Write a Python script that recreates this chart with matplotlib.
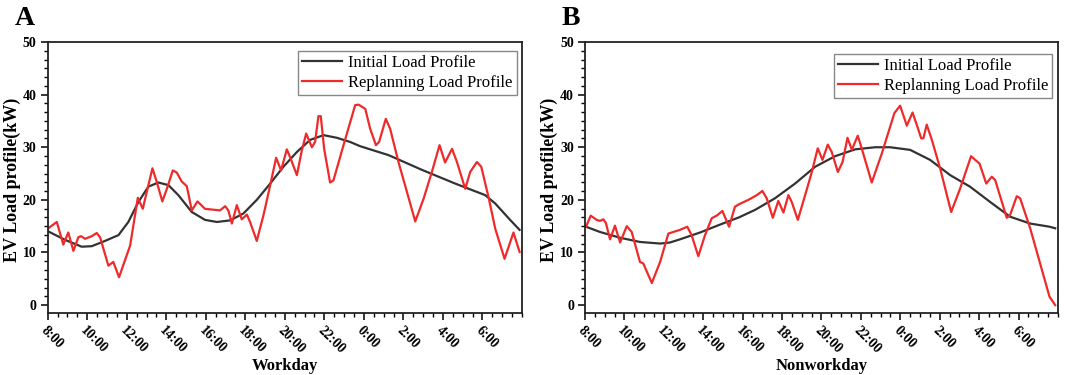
import matplotlib
matplotlib.use('Agg')
import matplotlib.pyplot as plt
from matplotlib.ticker import AutoMinorLocator

plt.rcParams['font.family'] = ['Liberation Serif', 'DejaVu Serif']

# hours after 8:00
hour_ticks = [0, 2, 4, 6, 8, 10, 12, 14, 16, 18, 20, 22]
hour_labels = ['8:00', '10:00', '12:00', '14:00', '16:00', '18:00',
               '20:00', '22:00', '0:00', '2:00', '4:00', '6:00']
load_ticks = [0, 10, 20, 30, 40, 50]

# workday - initial load profile
x_init_work = [0.03, 0.88, 1.72, 2.23, 2.90, 3.58, 4.08, 4.59, 5.09, 5.60, 6.11, 6.61,
               7.29, 7.96, 8.56, 9.23, 9.90, 10.58, 11.26, 11.93, 12.61, 13.28, 13.96,
               14.63, 15.31, 15.81, 17.25, 18.94, 20.62, 22.14, 22.65, 23.40, 23.88]
y_init_work = [14.0, 12.4, 11.1, 11.2, 12.2, 13.3, 15.8, 19.6, 22.5, 23.3, 22.8, 20.9,
               17.7, 16.2, 15.8, 16.1, 17.4, 20.0, 23.1, 26.3, 29.1, 31.4, 32.3,
               31.8, 31.0, 30.2, 28.5, 25.7, 23.1, 20.9, 19.3, 16.2, 14.3]

# workday - replanning load profile
x_repl_work = [0.03, 0.46, 0.79, 1.04, 1.30, 1.55, 1.69, 1.89, 2.23, 2.48, 2.65, 3.07,
               3.32, 3.61, 4.17, 4.56, 4.81, 5.30, 5.52, 5.80, 6.03, 6.33, 6.53, 6.78,
               7.04, 7.29, 7.58, 7.96, 8.72, 8.98, 9.14, 9.32, 9.57, 9.82, 10.08, 10.24,
               10.58, 10.92, 11.26, 11.56, 11.81, 12.10, 12.30, 12.61, 12.86, 13.08,
               13.37, 13.53, 13.70, 13.82, 13.99, 14.29, 14.46, 14.97, 15.56, 15.73,
               16.07, 16.32, 16.61, 16.77, 17.11, 17.33, 17.75, 18.18, 18.60, 19.02,
               19.44, 19.83, 20.11, 20.46, 20.71, 21.13, 21.38, 21.72, 21.94, 22.31,
               22.65, 23.12, 23.57, 23.88]
y_repl_work = [14.6, 15.8, 11.5, 13.8, 10.3, 12.9, 13.1, 12.6, 13.1, 13.7, 12.9, 7.5,
               8.2, 5.3, 11.3, 20.4, 18.3, 26.0, 23.4, 19.7, 22.1, 25.6, 25.2, 23.5,
               22.6, 18.0, 19.7, 18.3, 18.0, 18.8, 18.0, 15.5, 19.0, 16.3, 17.2, 15.8,
               12.2, 17.1, 22.8, 28.0, 25.6, 29.6, 27.8, 24.7, 29.4, 32.6,
               30.0, 31.0, 35.9, 35.9, 29.7, 23.3, 23.7, 30.4, 38.0, 38.1,
               37.3, 33.5, 30.4, 31.0, 35.4, 33.5, 27.2, 21.5, 15.9, 20.2,
               25.3, 30.4, 27.1, 29.7, 27.2, 22.1, 25.3, 27.2, 26.3, 20.5,
               14.5, 8.8, 13.8, 10.1]

# nonworkday - initial load profile
x_init_non = [0.05, 0.76, 1.78, 2.79, 3.81, 4.31, 4.82, 5.84, 6.85, 7.83, 8.63, 9.64,
              10.66, 11.68, 12.69, 13.71, 14.72, 15.48, 16.50, 17.51, 18.53, 19.54,
              20.56, 21.57, 22.59, 23.57, 23.86]
y_init_non = [14.9, 13.9, 12.8, 12.0, 11.7, 11.9, 12.5, 13.8, 15.3, 16.7, 18.1, 20.3,
              23.1, 26.3, 28.3, 29.6, 30.0, 30.0, 29.5, 27.6, 24.7, 22.5,
              19.6, 16.8, 15.5, 14.9, 14.6]

# nonworkday - replanning load profile
x_repl_non = [0.05, 0.29, 0.59, 0.76, 0.93, 1.06, 1.27, 1.52, 1.78, 2.12, 2.37, 2.79,
              2.96, 3.39, 3.81, 4.23, 4.48, 4.82, 5.19, 5.41, 5.75, 6.09, 6.43, 6.72,
              6.97, 7.31, 7.61, 7.83, 8.29, 8.72, 9.00, 9.22, 9.53, 9.81, 10.07, 10.32,
              10.49, 10.80, 11.17, 11.51, 11.81, 12.05, 12.32, 12.52, 12.83, 13.07,
              13.32, 13.54, 13.84, 14.04, 14.55, 15.06, 15.70, 15.99, 16.33, 16.62,
              16.84, 17.06, 17.17, 17.34, 17.60, 18.02, 18.58, 19.04, 19.59, 19.80,
              20.02, 20.36, 20.64, 20.81, 21.40, 21.57, 21.91, 22.08, 22.59, 23.57, 23.86]
y_repl_non = [14.9, 17.0, 16.2, 16.0, 16.3, 15.6, 12.5, 15.1, 11.9, 15.0, 13.9, 8.2,
              7.9, 4.2, 8.2, 13.6, 13.9, 14.3, 14.9, 13.3, 9.3, 13.3, 16.5, 17.1,
              17.9, 14.9, 18.7, 19.2, 20.0, 20.9, 21.7, 20.3, 16.6, 19.8, 17.6, 20.9,
              19.6, 16.2, 20.9, 25.3, 29.8, 27.6, 30.5, 29.1, 25.3, 27.2,
              31.8, 29.5, 32.2, 29.8, 23.3, 28.8, 36.5, 37.9, 34.1, 36.6,
              34.2, 31.7, 31.7, 34.3, 31.4, 26.0, 17.7, 22.2, 28.3, 27.6,
              26.9, 23.1, 24.4, 23.8, 16.6, 17.1, 20.7, 20.3, 14.6, 1.6, 0.0]

fig = plt.figure(figsize=(10.65, 3.75), dpi=100)
ax1 = fig.add_axes([0.0448, 0.1653, 0.4453, 0.7227])
ax2 = fig.add_axes([0.5493, 0.1653, 0.4441, 0.7227])


def configurar_painel(ax, x_init, y_init, x_repl, y_repl, xlabel, leg_anchor):
    ax.plot(x_init, y_init, color='#333333', lw=1.6, label='Initial Load Profile')
    ax.plot(x_repl, y_repl, color='#ee2a2a', lw=1.6, label='Replanning Load Profile')
    ax.set_xlim(0, 24)
    ax.set_ylim(-1.5, 50)
    ax.set_xticks(hour_ticks)
    ax.set_xticklabels(hour_labels, rotation=-45, ha='left', va='top',
                       rotation_mode='anchor', fontweight='bold', fontsize=10)
    ax.set_yticks(load_ticks)
    ax.set_yticklabels([str(v) for v in load_ticks], fontweight='bold', fontsize=10)
    ax.xaxis.set_minor_locator(AutoMinorLocator(4))
    ax.yaxis.set_minor_locator(AutoMinorLocator(6))
    ax.tick_params(which='major', direction='out', length=5, width=1.1, pad=3)
    ax.tick_params(which='minor', direction='out', length=3, width=1.0)
    for sp in ax.spines.values():
        sp.set_linewidth(1.3)
        sp.set_color('#222222')
    ax.set_xlabel(xlabel, fontweight='bold', fontsize=12)
    ax.xaxis.set_label_coords(0.5, -0.165)
    ax.set_ylabel('EV Load profile(kW)', fontweight='bold', fontsize=13)
    ax.yaxis.set_label_coords(-0.057, 0.49)
    leg = ax.legend(loc='upper right', bbox_to_anchor=leg_anchor, borderaxespad=0,
                    fontsize=12, handlelength=2.4, handletextpad=0.35,
                    labelspacing=0.25, borderpad=0.25, fancybox=False,
                    framealpha=1)
    leg.get_frame().set_edgecolor('#888888')
    leg.get_frame().set_linewidth(1.0)


configurar_painel(ax1, x_init_work, y_init_work, x_repl_work, y_repl_work,
                  'Workday', (0.989, 0.968))
configurar_painel(ax2, x_init_non, y_init_non, x_repl_non, y_repl_non,
                  'Nonworkday', (0.988, 0.956))

fig.text(0.014, 0.985, 'A', fontsize=20, fontweight='bold', va='top', ha='left')
fig.text(0.527, 0.985, 'B', fontsize=20, fontweight='bold', va='top', ha='left')

fig.savefig('out.png', dpi=100)
